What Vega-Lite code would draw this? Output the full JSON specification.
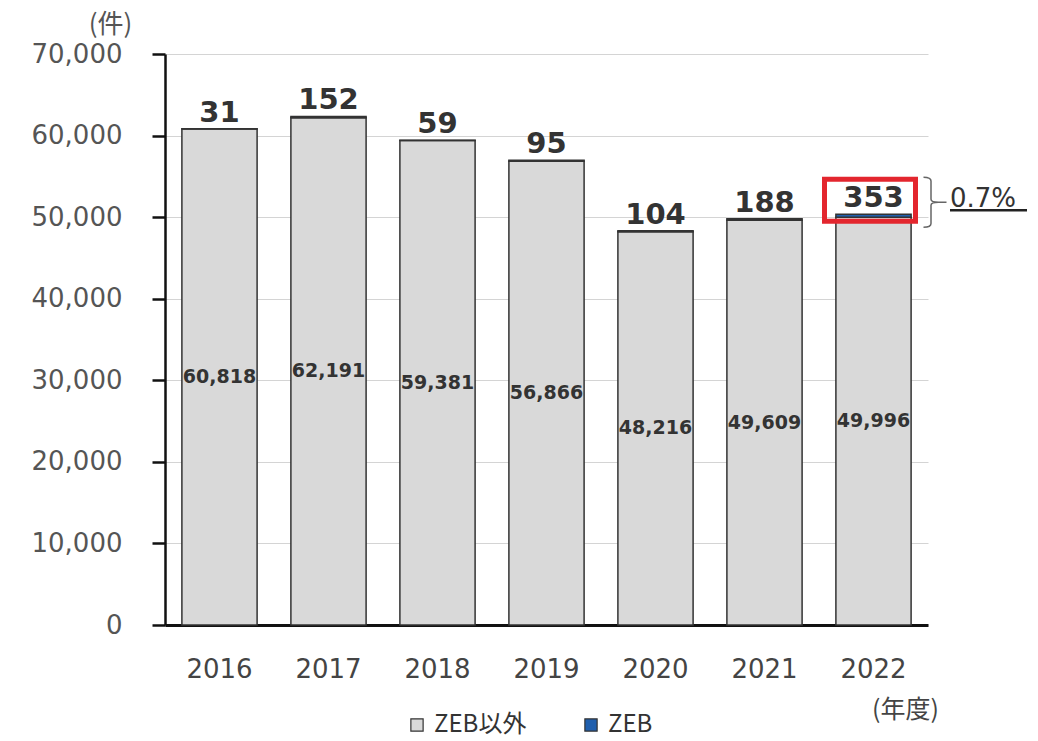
{
  "$schema": "https://vega.github.io/schema/vega-lite/v6.json",
  "width": 763,
  "height": 571,
  "autosize": {"type": "none"},
  "padding": {"left": 165, "top": 54, "right": 110, "bottom": 116},
  "background": "white",
  "config": {"view": {"stroke": null}, "font": "DejaVu Sans"},
  "data": {
    "values": [
      {"year": "2016", "type": "ZEB以外", "count": 60818},
      {"year": "2016", "type": "ZEB", "count": 31},
      {"year": "2017", "type": "ZEB以外", "count": 62191},
      {"year": "2017", "type": "ZEB", "count": 152},
      {"year": "2018", "type": "ZEB以外", "count": 59381},
      {"year": "2018", "type": "ZEB", "count": 59},
      {"year": "2019", "type": "ZEB以外", "count": 56866},
      {"year": "2019", "type": "ZEB", "count": 95},
      {"year": "2020", "type": "ZEB以外", "count": 48216},
      {"year": "2020", "type": "ZEB", "count": 104},
      {"year": "2021", "type": "ZEB以外", "count": 49609},
      {"year": "2021", "type": "ZEB", "count": 188},
      {"year": "2022", "type": "ZEB以外", "count": 49996},
      {"year": "2022", "type": "ZEB", "count": 353}
    ]
  },
  "encoding": {
    "x": {
      "field": "year",
      "type": "ordinal",
      "scale": {"paddingInner": 0.31, "paddingOuter": 0.155},
      "axis": {
        "labelAngle": 0,
        "domainColor": "#111",
        "domainWidth": 3,
        "ticks": false,
        "labelFont": "DejaVu Sans",
        "labelFontSize": 26,
        "labelColor": "#444",
        "labelPadding": 31,
        "title": "(年度)",
        "titleX": 740,
        "titleY": 84,
        "titleAlign": "center",
        "titleBaseline": "middle",
        "titleFont": "Noto Sans CJK JP",
        "titleFontSize": 25,
        "titleFontWeight": "normal",
        "titleColor": "#444"
      }
    }
  },
  "layer": [
    {
      "mark": {"type": "bar", "stroke": "#333", "strokeWidth": 1.5},
      "encoding": {
        "y": {
          "field": "count",
          "type": "quantitative",
          "stack": "zero",
          "scale": {"domain": [0, 70000], "nice": false},
          "axis": {
            "values": [0, 10000, 20000, 30000, 40000, 50000, 60000, 70000],
            "format": ",.0f",
            "grid": true,
            "gridColor": "#d4d4d4",
            "gridWidth": 1,
            "domainColor": "#111",
            "domainWidth": 2.5,
            "tickColor": "#111",
            "tickWidth": 2.5,
            "tickSize": 13,
            "labelFont": "DejaVu Sans",
            "labelFontSize": 26,
            "labelColor": "#555",
            "labelPadding": 30,
            "title": "(件)",
            "titleAngle": 0,
            "titleX": -55,
            "titleY": -30,
            "titleAlign": "center",
            "titleBaseline": "middle",
            "titleFont": "Noto Sans CJK JP",
            "titleFontSize": 26,
            "titleFontWeight": "normal",
            "titleColor": "#555"
          }
        },
        "color": {
          "field": "type",
          "type": "nominal",
          "scale": {"domain": ["ZEB以外", "ZEB"], "range": ["#d9d9d9", "#1f5fae"]},
          "legend": {
            "orient": "none",
            "legendX": 240,
            "legendY": 659,
            "direction": "horizontal",
            "title": null,
            "symbolType": "square",
            "symbolSize": 150,
            "symbolStrokeColor": "#333",
            "symbolStrokeWidth": 1.2,
            "labelFont": "Noto Sans CJK JP",
            "labelFontSize": 24,
            "labelColor": "#333",
            "labelOffset": 5,
            "columnPadding": 52
          }
        },
        "order": {"field": "type", "sort": "descending"}
      }
    },
    {
      "transform": [{"filter": "datum.type === 'ZEB以外'"}],
      "mark": {"type": "text", "fontWeight": "bold", "fontSize": 19, "color": "#333", "baseline": "middle"},
      "encoding": {
        "y": {"field": "count", "type": "quantitative", "scale": {"domain": [0, 140000], "nice": false}, "axis": null},
        "text": {"field": "count", "type": "quantitative", "format": ","}
      }
    },
    {
      "transform": [
        {"stack": "count", "groupby": ["year"], "sort": [{"field": "type", "order": "descending"}], "as": ["base", "top"]},
        {"filter": "datum.type === 'ZEB'"}
      ],
      "mark": {"type": "text", "fontWeight": "bold", "fontSize": 29, "color": "#333", "baseline": "alphabetic", "dy": -7},
      "encoding": {
        "y": {"field": "top", "type": "quantitative", "scale": {"domain": [0, 70000], "nice": false}, "axis": null},
        "text": {"field": "count", "type": "quantitative", "format": ","}
      }
    },
    {
      "transform": [
        {"stack": "count", "groupby": ["year"], "sort": [{"field": "type", "order": "descending"}], "as": ["base", "top"]},
        {"filter": "datum.type === 'ZEB' && datum.year === '2022'"}
      ],
      "layer": [
        {
          "mark": {"type": "point", "shape": "M-1,-0.4615H1V0.4615H-1Z", "size": 8281, "filled": false, "stroke": "#e3262e", "strokeWidth": 5, "opacity": 1, "xOffset": -3.5, "yOffset": -14},
          "encoding": {"y": {"field": "top", "type": "quantitative", "scale": {"domain": [0, 70000], "nice": false}, "axis": null}}
        },
        {
          "mark": {"type": "point", "shape": "M-0.3,-1Q0,-1 0,-0.85V-0.12Q0,0 0.3,0Q0,0 0,0.12V0.85Q0,1 -0.3,1M0.3,0H0.62", "size": 2500, "filled": false, "stroke": "#666", "strokeWidth": 1.5, "opacity": 1, "xOffset": 57.5, "yOffset": -12},
          "encoding": {"y": {"field": "top", "type": "quantitative", "scale": {"domain": [0, 70000], "nice": false}, "axis": null}}
        },
        {
          "mark": {"type": "text", "fontSize": 26, "color": "#333", "align": "left", "baseline": "middle", "dx": 76.5, "dy": -15},
          "encoding": {
            "y": {"field": "top", "type": "quantitative", "scale": {"domain": [0, 70000], "nice": false}, "axis": null},
            "text": {"value": "0.7%"}
          }
        },
        {
          "mark": {"type": "point", "shape": "M-1,0H1", "size": 5929, "filled": false, "stroke": "#222", "strokeWidth": 2.5, "opacity": 1, "xOffset": 115, "yOffset": -4},
          "encoding": {"y": {"field": "top", "type": "quantitative", "scale": {"domain": [0, 70000], "nice": false}, "axis": null}}
        }
      ]
    }
  ],
  "resolve": {"scale": {"y": "independent"}}
}
